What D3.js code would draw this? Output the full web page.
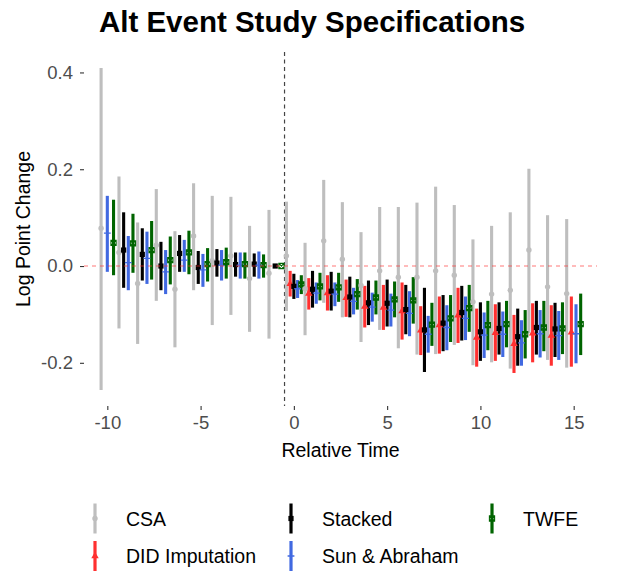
<!DOCTYPE html>
<html>
<head>
<meta charset="utf-8">
<script src="https://cdn.jsdelivr.net/npm/d3@7"></script>
<style>
  body { margin: 0; background: #fff; }
  text { font-family: "Liberation Sans", Arial, sans-serif; }
</style>
</head>
<body>
<svg id="chart" width="618" height="577"></svg>
<script>
// relative time periods
const relTime = [-10, -9, -8, -7, -6, -5, -4, -3, -2, -1, 0, 1, 2, 3, 4, 5, 6, 7, 8, 9, 10, 11, 12, 13, 14, 15]

// [estimate, lower, upper] per period, null = not estimated
const csa = [
  [0.078, -0.256, 0.409], [0.028, -0.129, 0.185], [-0.036, -0.161, 0.090], [0.043, -0.072, 0.159],
  [-0.048, -0.168, 0.072], [0.062, -0.050, 0.171], [0.011, -0.122, 0.145], [0.021, -0.101, 0.143],
  [-0.026, -0.136, 0.083], [-0.015, -0.150, 0.116], [0.021, -0.093, 0.133], [-0.047, -0.143, 0.048],
  [0.052, -0.076, 0.178], [0.014, -0.106, 0.132], [-0.040, -0.157, 0.070], [-0.010, -0.132, 0.122],
  [-0.023, -0.170, 0.122], [-0.023, -0.183, 0.131], [-0.010, -0.182, 0.164], [-0.019, -0.163, 0.126],
  [-0.074, -0.205, 0.055], [-0.058, -0.199, 0.083], [-0.050, -0.212, 0.111], [0.033, -0.139, 0.201],
  [-0.043, -0.194, 0.105], [-0.057, -0.210, 0.097]
]
const didImputation = [
  null, null, null, null, null, null, null, null, null, null,
  [-0.037, -0.063, -0.010], [-0.057, -0.090, -0.025], [-0.056, -0.092, -0.019], [-0.066, -0.105, -0.028],
  [-0.084, -0.127, -0.041], [-0.086, -0.132, -0.039], [-0.093, -0.152, -0.034], [-0.133, -0.184, -0.083],
  [-0.122, -0.181, -0.063], [-0.102, -0.159, -0.045], [-0.148, -0.208, -0.088], [-0.138, -0.196, -0.079],
  [-0.161, -0.221, -0.101], [-0.139, -0.199, -0.077], [-0.144, -0.206, -0.081], [-0.137, -0.208, -0.063]
]
const stacked = [
  null, [0.033, -0.045, 0.111], [0.024, -0.030, 0.078], [0.000, -0.050, 0.050],
  [0.026, -0.012, 0.064], [-0.003, -0.037, 0.031], [0.006, -0.022, 0.035], [0.003, -0.022, 0.028],
  [0.004, -0.022, 0.026], [0, 0, 0], [-0.042, -0.068, -0.016], [-0.048, -0.086, -0.010],
  [-0.052, -0.092, -0.012], [-0.064, -0.106, -0.022], [-0.076, -0.122, -0.030], [-0.077, -0.125, -0.028],
  [-0.090, -0.141, -0.039], [-0.132, -0.219, -0.045], [-0.118, -0.176, -0.060], [-0.096, -0.154, -0.041],
  [-0.136, -0.196, -0.075], [-0.129, -0.183, -0.075], [-0.146, -0.206, -0.088], [-0.127, -0.183, -0.072],
  [-0.130, -0.188, -0.076], null
]
const sunAbraham = [
  [0.068, -0.012, 0.145], [0.007, -0.050, 0.062], [0.016, -0.037, 0.071], [-0.012, -0.058, 0.033],
  [0.012, -0.012, 0.054], [-0.008, -0.043, 0.025], [0.002, -0.030, 0.033], [0.002, -0.026, 0.028],
  [0.002, -0.026, 0.030], null, [-0.047, -0.066, -0.029], [-0.056, -0.078, -0.034],
  [-0.058, -0.083, -0.034], [-0.073, -0.100, -0.045], [-0.085, -0.115, -0.055], [-0.091, -0.125, -0.057],
  [-0.098, -0.145, -0.052], [-0.141, -0.179, -0.103], [-0.127, -0.174, -0.081], [-0.108, -0.153, -0.063],
  [-0.143, -0.190, -0.096], [-0.141, -0.188, -0.094], [-0.159, -0.206, -0.112], [-0.140, -0.189, -0.091],
  [-0.144, -0.194, -0.093], [-0.140, -0.201, -0.079]
]
const twfe = [
  [0.048, -0.019, 0.137], [0.047, -0.014, 0.108], [0.033, -0.028, 0.093], [0.012, -0.038, 0.061],
  [0.028, -0.017, 0.073], [0.004, -0.032, 0.037], [0.008, -0.026, 0.038], [0.004, -0.026, 0.028],
  [0.002, -0.024, 0.024], [0, 0, 0], [-0.038, -0.058, -0.019], [-0.042, -0.071, -0.014],
  [-0.044, -0.074, -0.014], [-0.058, -0.090, -0.027], [-0.065, -0.100, -0.030], [-0.069, -0.106, -0.032],
  [-0.071, -0.119, -0.023], [-0.121, -0.165, -0.076], [-0.108, -0.157, -0.060], [-0.087, -0.136, -0.039],
  [-0.122, -0.174, -0.072], [-0.120, -0.168, -0.072], [-0.141, -0.191, -0.091], [-0.127, -0.176, -0.072],
  [-0.129, -0.182, -0.075], [-0.120, -0.184, -0.057]
]

const seriesNames = ['CSA', 'DID Imputation', 'Stacked', 'Sun & Abraham', 'TWFE']
const seriesData = [csa, didImputation, stacked, sunAbraham, twfe]
const seriesColors = ['#BEBEBE', '#FF3030', '#000000', '#4169E1', '#006400']
const seriesShapes = ['circle', 'triangle', 'square', 'plus', 'boxx']
const xTicks = [-10, -5, 0, 5, 10, 15]
const yTicks = [-0.2, 0.0, 0.2, 0.4]

const W = 618, H = 577
const panel = {left: 84, right: 597, top: 52, bottom: 406}
const dodgeWidth = 1

// long table, dodged like ggplot position_dodge (n = groups present at each x)
let rows = []
relTime.forEach((t, ti) => {
  let present = seriesData.map((s, si) => s[ti] ? si : -1).filter(si => si >= 0)
  let n = present.length
  present.forEach((si, k) => {
    let d = seriesData[si][ti]
    rows.push({t: t, series: si, x: t + (k - (n - 1) / 2) * dodgeWidth / n, est: d[0], lo: d[1], hi: d[2]})
  })
})

const x = d3.scaleLinear()
  .domain([-11.25, 16.25])
  .range([panel.left, panel.right])

let yMin = d3.min(rows, d => d.lo), yMax = d3.max(rows, d => d.hi)
let pad = (yMax - yMin) * 0.05
const y = d3.scaleLinear()
  .domain([yMin - pad, yMax + pad])
  .range([panel.bottom, panel.top])

const svg = d3.select('#chart')

// title
svg.append('text')
  .attr('x', 312).attr('y', 32)
  .attr('text-anchor', 'middle')
  .attr('font-size', 29.5).attr('font-weight', 'bold')
  .text('Alt Event Study Specifications')

// axes
const xAxis = svg.append('g')
  .attr('transform', `translate(0,${panel.bottom})`)
  .call(d3.axisBottom(x).tickValues(xTicks).tickFormat(d3.format('d')).tickSize(4).tickPadding(6))
const yAxis = svg.append('g')
  .attr('transform', `translate(${panel.left},0)`)
  .call(d3.axisLeft(y).tickValues(yTicks).tickFormat(d3.format('.1f')).tickSize(4).tickPadding(7))
;[xAxis, yAxis].forEach(g => {
  g.select('.domain').remove()
  g.selectAll('.tick line').attr('stroke', '#333333').attr('stroke-width', 1.1)
  g.selectAll('.tick text').attr('fill', '#4D4D4D').attr('font-size', 18.5)
    .style('font-family', '"Liberation Sans", Arial, sans-serif')
})
yAxis.selectAll('.tick text').text(d => d3.format('.1f')(d).replace('−', '-'))
xAxis.selectAll('.tick text').text(d => String(d))

svg.append('text')
  .attr('x', (panel.left + panel.right) / 2).attr('y', 457)
  .attr('text-anchor', 'middle').attr('font-size', 19.5)
  .text('Relative Time')
svg.append('text')
  .attr('transform', `translate(30,${(panel.top + panel.bottom) / 2}) rotate(-90)`)
  .attr('text-anchor', 'middle').attr('font-size', 19.5)
  .text('Log Point Change')

// vertical reference line between pre and post
svg.append('line')
  .attr('x1', x(-0.5)).attr('x2', x(-0.5))
  .attr('y1', panel.top).attr('y2', panel.bottom)
  .attr('stroke', '#444444').attr('stroke-width', 1.2).attr('stroke-dasharray', '4,3.5')

// ranges
const plot = svg.append('g')
plot.selectAll('line.range')
  .data(rows)
  .join('line')
  .attr('class', 'range')
  .attr('x1', d => x(d.x)).attr('x2', d => x(d.x))
  .attr('y1', d => y(d.lo)).attr('y2', d => y(d.hi))
  .attr('stroke', d => seriesColors[d.series])
  .attr('stroke-width', 3.1)

// zero line
svg.append('line')
  .attr('x1', panel.left).attr('x2', panel.right)
  .attr('y1', y(0)).attr('y2', y(0))
  .attr('stroke', '#FF3030').attr('stroke-opacity', 0.65)
  .attr('stroke-width', 1.2).attr('stroke-dasharray', '4,4')

function drawShape(g, shape, color) {
  if (shape == 'circle') {
    g.append('circle').attr('r', 2.7).attr('fill', color)
  } else if (shape == 'triangle') {
    g.append('path').attr('d', d3.symbol(d3.symbolTriangle, 24)()).attr('fill', color)
  } else if (shape == 'square') {
    g.append('rect').attr('x', -2.6).attr('y', -2.6).attr('width', 5.2).attr('height', 5.2).attr('fill', color)
  } else if (shape == 'plus') {
    g.append('path').attr('d', 'M-3.4,0H3.4M0,-3.4V3.4').attr('stroke', color).attr('stroke-width', 1.3)
  } else {
    g.append('path').attr('d', 'M-2.6,-2.6H2.6V2.6H-2.6ZM-2.6,-2.6L2.6,2.6M2.6,-2.6L-2.6,2.6')
      .attr('fill', 'none').attr('stroke', color).attr('stroke-width', 1.1)
  }
}

// points
plot.selectAll('g.pt')
  .data(rows)
  .join('g')
  .attr('class', 'pt')
  .attr('transform', d => `translate(${x(d.x)},${y(d.est)})`)
  .each(function(d) { drawShape(d3.select(this), seriesShapes[d.series], seriesColors[d.series]) })

// legend, filled by column with two rows
const legendCols = [95, 291, 492]
const legendRows = [518.5, 556]
seriesNames.forEach((name, i) => {
  let cx = legendCols[Math.floor(i / 2)], cy = legendRows[i % 2]
  let g = svg.append('g').attr('transform', `translate(${cx},${cy})`)
  g.append('line').attr('y1', -15).attr('y2', 15)
    .attr('stroke', seriesColors[i]).attr('stroke-width', 3.2)
  drawShape(g, seriesShapes[i], seriesColors[i])
  svg.append('text')
    .attr('x', cx + 31).attr('y', cy + 7)
    .attr('font-size', 19.5)
    .text(name)
})
</script>
</body>
</html>
